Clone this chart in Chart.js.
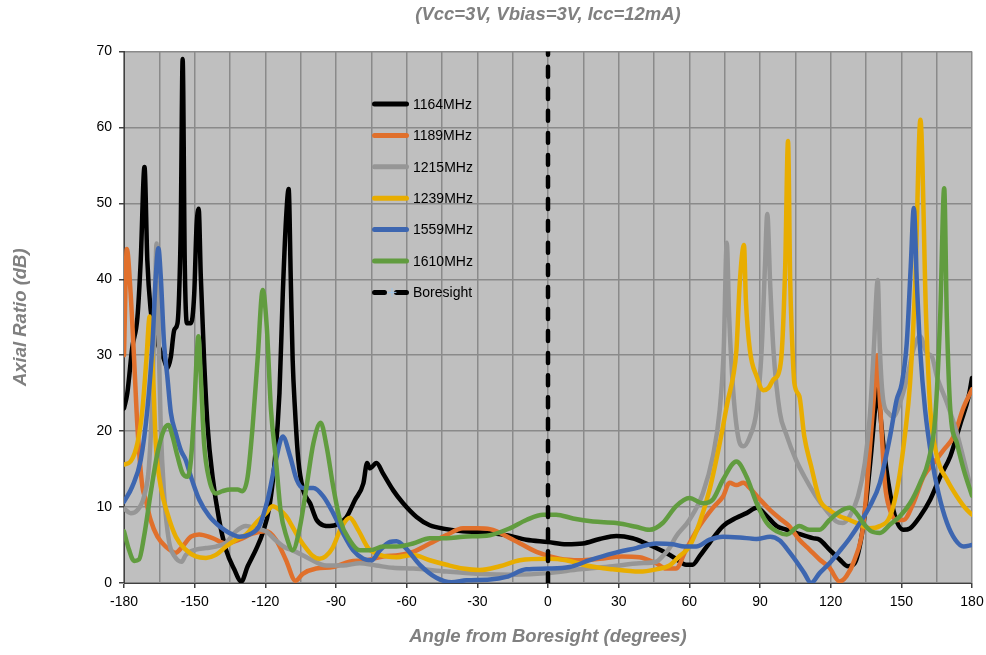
<!DOCTYPE html>
<html>
<head>
<meta charset="utf-8">
<title>Axial Ratio vs Angle</title>
<script src="https://cdn.jsdelivr.net/npm/chart.js@4.4.1/dist/chart.umd.min.js"></script>
<style>
  html, body { margin: 0; padding: 0; background: #ffffff; }
  #wrap { width: 986px; height: 655px; position: relative; }
</style>
</head>
<body>
<div id="wrap"><canvas id="arChart"></canvas></div>
<script>
// values (angle in degrees, axial ratio in dB)
const ang1164 = [-180,-178.6,-176.5,-174.3,-172.9,-171.3,-170.1,-168.7,-167.2,-165.1,-163,-161.6,-160.1,-158.7,-157.3,-156.6,-155.9,-155.1,-154.2,-153.3,-151.6,-150.2,-149.2,-148.3,-147.4,-146,-144.5,-142.4,-139.6,-136.7,-133.2,-130.2,-127.5,-124,-121.1,-118.3,-116.2,-114,-112.6,-111.2,-110.1,-109.2,-108.4,-107.4,-106,-103.9,-101,-98.2,-95.4,-92.6,-89,-85.5,-82,-78.4,-76.8,-75.6,-72.8,-70,-65.7,-61.5,-55.8,-50.2,-43.1,-36.1,-29,-17.7,-9.2,0,7.8,14.8,21.9,29,35.9,41.7,48.6,54.3,58.6,61.4,64.3,68.6,74.3,80,84.3,88.6,92.9,97.1,101.4,105.3,112.4,115.3,119.5,123.8,127.4,130.2,133.1,135.2,137.3,138.8,139.8,140.9,142.3,144.5,147.3,150.9,153.7,158,162.3,166.5,170.8,175.1,178.6,180];
const ar1164 = [23,25,31,35,42.5,54.8,42.5,36,33,31,29.4,28.3,29.8,33.3,34.2,38,47,69,42,34.2,34.2,38,47,49.3,40.4,29.4,20.6,14,8.3,4.4,1.8,0.2,2.2,4.4,6.6,10,15.4,25,38,48,51.9,40,29.4,22.8,16.2,12.2,10.5,8.3,7.6,7.5,7.8,8.7,10.9,13.1,15.8,15.1,15.8,14.4,12.2,10.5,8.7,7.6,7.1,6.8,6.7,6.3,5.7,5.4,5.1,5.2,5.8,6.2,5.9,5.2,4.2,3.2,2.4,2.4,3.5,5.3,7.5,8.6,9.2,9.9,8.8,7.5,7,6.6,5.9,5.7,4.4,3.1,2.2,2.6,6.1,11,17.5,22.8,26,22.8,18.4,13.2,8.8,7,7.2,8.8,11,14,16.7,21,24.6,27];

const ang1189 = [-180,-178.8,-177.2,-175.7,-174.3,-172.2,-170.8,-168.7,-165.8,-162.3,-158,-155.2,-151.6,-148.1,-142.4,-136.7,-131.1,-125.4,-119.7,-115.5,-111.2,-107.2,-104.1,-98.4,-91.3,-84.3,-77.2,-70.1,-63,-57.3,-50.2,-43.1,-36.1,-30,-24.7,-14.8,-4.9,4.9,13.4,22,31.4,38.8,45.9,50.1,54.3,58.6,64.3,70,74.3,77.1,80,82.9,85.7,90,94.3,98.4,102.4,106.7,111,115.3,119.5,123.8,126.7,130.2,133.8,136.6,138.8,139.8,140.9,143,145.2,148,150.9,155.1,159.4,163.7,167.9,172.2,176.5,180];
const ar1189 = [30,44,38.2,29.4,20.6,12.7,11,8.3,6.1,4.8,4,4.8,6.1,6.4,5.9,5.2,5.7,6.5,6.8,5.7,3,0.3,1.2,1.9,2.1,2.8,3,3.5,3.7,4.1,5.2,6.3,7.2,7.2,7.1,5.7,4.1,3.2,3,3.2,3.5,3.4,2.6,1.9,1.9,4.4,7.5,9.9,11.4,13.2,12.9,13.2,12.5,11,9.6,8.5,7.5,5.7,4.4,3.1,2,0.2,0.9,3.1,7.5,17.5,26.3,30,24.1,13.2,9.6,8.3,8.3,10.5,14,15.8,17.5,19.3,23.2,25.5];

const ang1215 = [-180,-177.2,-174.3,-171.5,-169.4,-167.9,-166.8,-166.2,-165.4,-164.4,-163,-160.9,-158.5,-155.5,-153.8,-149.5,-145.2,-141,-136.7,-132.5,-128.2,-124,-119.7,-115.5,-111.2,-108.4,-101.3,-94.2,-87.1,-80,-72.9,-65.8,-57.2,-43.1,-29,-14.8,0,13.4,27.5,38.8,45.9,48.6,51.6,54.3,60,65.7,70,72.9,74.6,75.9,76.9,78.6,80.7,82.9,85.7,88.6,90.7,92.1,93.1,94.3,95.7,98.4,101,105.3,109.6,113.8,118.1,122.4,125.2,128.1,131.6,134.5,136.6,138.3,140,140.9,142.3,144.5,146.6,149.4,152.3,155.1,157.9,160.8,163,165.1,169.4,173.6,177.9,180];
const ar1215 = [9.8,9.2,9.6,11.4,15.4,25,38.2,44.7,33.8,20.6,11.8,5.5,3.5,2.8,3.7,4.4,4.6,4.8,5.3,6.8,7.5,7.2,6.8,5.6,4.6,4.3,3.2,2.3,2.3,2.6,2.3,2,1.9,1.5,1.2,1.1,1.3,1.8,2.2,2.6,2.8,3.5,4.6,6.1,8.3,11.8,16.7,22.8,30.7,44.8,35.1,25.4,19.3,18,19.3,22.8,30.7,41.7,48.6,39.5,30.7,22.5,19.7,16.2,13.6,11.4,9.6,8.1,7.9,8.8,11.4,15.8,21.9,30.7,39.9,30.7,24.1,22.4,21.9,23.7,26.8,30.7,32.5,30.3,29.8,27.2,23.7,19.7,14.5,11.8];

const ang1239 = [-180,-177.2,-174.3,-172.2,-170.5,-169.1,-167.9,-166.5,-164.4,-161.6,-158,-153.8,-149.5,-145.2,-141,-136.7,-132.5,-128.2,-124,-119.7,-116.9,-113.8,-111.2,-108.1,-105.5,-102.5,-99.9,-97,-94.5,-91.5,-87.6,-84.2,-80.6,-76.3,-71.4,-64.3,-57.3,-50.2,-43.1,-36.1,-29,-20.5,-12,0,7.8,16.2,27.5,38.8,45.9,51.6,55.7,60,64.3,68.6,72.9,76.4,78.6,80,81.4,83.2,84,85.7,88.6,91.4,93.6,95.7,97.9,99.3,100.7,101.9,102.8,103.5,104.6,106.7,108.8,111.7,115.3,119.5,123.8,128.1,132.4,136.6,140.9,145.2,148.7,151.6,153.7,155.9,158.1,160.5,162.3,165.1,169.4,173.6,177.9,180];
const ar1239 = [15.6,16,18.4,22.8,29.4,35.1,29.4,18.4,12.7,9.2,6.1,4.4,3.5,3.3,3.7,4.8,5.7,6.4,7.9,9.2,10.1,9.6,8.8,7.2,5.8,4.5,3.6,3.2,3.5,4.6,7.4,8.6,7,4.6,3.7,3.4,3.7,3,2.4,1.9,1.7,2.2,3,3.2,3,2.3,1.8,1.5,1.8,2.3,3.5,4.8,7.9,12.3,18.4,24.1,27.2,30.7,39.5,44.5,37.3,30.7,27.2,25.4,25.7,26.8,27.6,30.7,41.7,58.2,40,33,26.3,24.6,19.3,15.4,11,9.6,8.8,8.3,7.7,7.2,7.5,8.8,13.2,19.7,26.3,39.5,61,35.1,22.8,16.7,13.6,11.4,9.6,9];

const ang1559 = [-180,-176.5,-172.9,-170.1,-167.9,-166.5,-165.4,-164.4,-163,-161.6,-160.1,-158,-155.9,-153.8,-151.6,-148.1,-143.8,-139.6,-135.3,-131.1,-126.8,-122.6,-119,-115.5,-112.6,-109.5,-106.7,-103.9,-99.6,-95.4,-91.2,-86.9,-82.7,-78.4,-74.9,-71.4,-67.1,-64.3,-60.1,-54.4,-47.4,-41,-34.6,-24.7,-17.7,-9.2,0,9.2,17.7,27.5,37.4,45.9,53,58,62.9,68.6,74.3,81.4,88.6,94.3,98.4,101.7,105.3,108.8,111.7,115.3,119.5,123.8,128.1,132.4,136.6,140.9,145.2,148,150.2,152.3,154,155.3,156.6,158,160.1,163,165.8,169.4,172.9,176.5,180];
const ar1559 = [10.7,12.7,16.2,22.8,31.6,40.4,44.1,40.4,31.6,27.2,22.4,19.7,17.5,16.2,14,11,8.8,7.5,6.6,6.1,6.4,7.5,11,16.2,19.3,16.7,13.6,12.5,12.5,11.4,9.2,6.5,4.3,3.2,3,4.3,5.4,5.5,4.5,2.4,0.7,0.1,0.35,0.45,0.8,1.8,1.9,2.1,3,3.9,4.6,5.2,5.1,4.8,4.8,5.7,6.1,6,5.8,6.1,5.6,4.4,2.9,1.3,0,1.3,2.6,4.2,5.9,7.9,10.1,13.2,19.3,24.1,26.3,31.6,41.7,49.4,39.5,30.7,22.8,16.2,11.8,7.9,5.7,4.8,5];

const ang1610 = [-180,-177.9,-175.7,-173.6,-171.5,-168.7,-165.8,-163,-161.1,-159.4,-157.3,-155.2,-153,-151.6,-150.2,-149.2,-148.4,-147.4,-146,-143.8,-141,-138.2,-134.6,-131.8,-129.7,-127.5,-125.4,-123.3,-121.1,-119.4,-117.6,-115.5,-113.5,-111,-108.4,-105.3,-102.5,-99.6,-96.5,-94,-91.2,-88.3,-84.1,-79.9,-75.6,-70,-64.3,-57.3,-50.2,-43.1,-36,-24.7,-16.2,-9.2,-2.1,3.5,10.6,19.1,29,37.4,43.1,48.7,54.3,60,65.7,70,74.3,80,84.3,88.6,92.9,97.1,101.4,106.7,111,115.3,119.5,123.8,128.1,130.9,133.8,137.3,140.9,145.2,149.4,153.7,158,161.6,164.4,166.5,168.2,169.3,170.8,173.6,176.5,180];
const ar1610 = [6.8,4.4,2.9,3.1,6.1,11.8,17.1,20.2,20.8,19.3,16.7,14.5,14,16.2,22.8,29.4,32.5,27.2,18.4,13.6,11.8,12.1,12.3,12.3,12.1,14,20.6,29.4,38.6,33.8,22.8,16.2,9.5,6.1,4.3,7.4,12.7,18.4,21.1,18,12.7,8.3,5.6,4.3,4.3,4.8,4.8,5.2,5.9,5.9,6.1,6.3,7.2,8.3,9,9,8.5,8.1,7.9,7.4,7,7.9,10.1,11.2,10.5,11,13.6,16,14,10.5,7.9,6.8,6.4,7.5,7,7,8.3,9.4,9.9,9.2,7.9,6.8,6.6,7.7,8.8,10.5,13.2,16.2,21.9,35.1,52,35.1,22.8,18.4,14.9,11.5];

// boresight marker: a vertical line at 0 degrees spanning the y range
const boreAng = [0, 0];
const boreAr = [0, 70];

const seriesNames = ['1164MHz', '1189MHz', '1215MHz', '1239MHz', '1559MHz', '1610MHz', 'Boresight'];
const seriesColors = ['#000000', '#e0702c', '#969696', '#e8ad00', '#3d66b0', '#619c3f', '#000000'];

function pts(xs, ys) {
  return xs.map(function(x, i) { return { x: x, y: ys[i] }; });
}

var allX = [ang1164, ang1189, ang1215, ang1239, ang1559, ang1610, boreAng];
var allY = [ar1164, ar1189, ar1215, ar1239, ar1559, ar1610, boreAr];

var datasets = [];
for (var i = 0; i < seriesNames.length; i++) {
  var isBore = (i === 6);
  datasets.push({
    label: seriesNames[i],
    data: pts(allX[i], allY[i]),
    borderColor: seriesColors[i],
    backgroundColor: seriesColors[i],
    borderWidth: 4.5,
    borderCapStyle: 'round',
    borderJoinStyle: 'round',
    borderDash: isBore ? [10, 12] : [],
    pointRadius: 0,
    fill: false,
    cubicInterpolationMode: 'monotone',
    // excel paints later series on top; chart.js paints low "order" on top
    order: isBore ? 0 : 6 - i
  });
}

// grey plot area like the excel chart
const plotBg = {
  id: 'plotBg',
  beforeDraw: function(chart) {
    var a = chart.chartArea;
    var ctx = chart.ctx;
    ctx.save();
    ctx.fillStyle = '#bfbfbf';
    ctx.fillRect(a.left, a.top, a.right - a.left, a.bottom - a.top);
    ctx.restore();
  }
};

// legend sits inside the plot, no box
const innerLegend = {
  id: 'innerLegend',
  afterDatasetsDraw: function(chart) {
    var ctx = chart.ctx;
    ctx.save();
    ctx.font = '14px "Liberation Sans", Arial, sans-serif';
    ctx.textBaseline = 'middle';
    chart.data.datasets.forEach(function(ds, k) {
      var y = 104 + k * 31.4;
      ctx.strokeStyle = ds.borderColor;
      ctx.lineWidth = 5;
      ctx.lineCap = 'round';
      ctx.setLineDash(ds.borderDash.length ? [10, 12] : []);
      ctx.beginPath();
      ctx.moveTo(374.5, y);
      ctx.lineTo(406.5, y);
      ctx.stroke();
      ctx.setLineDash([]);
      if (ds.borderDash.length) {
        ctx.strokeStyle = '#9dc3e6';
        ctx.lineWidth = 1;
        ctx.beginPath();
        ctx.moveTo(392, y - 4); ctx.lineTo(392, y + 4);
        ctx.moveTo(388, y); ctx.lineTo(396, y);
        ctx.stroke();
      }
      ctx.fillStyle = '#000000';
      ctx.fillText(ds.label, 413, y + 1);
    });
    ctx.restore();
  }
};

Chart.defaults.font.family = '"Liberation Sans", Arial, sans-serif';

var titleFont = { size: 18.5, weight: 'bold', style: 'italic' };

var ctx = document.getElementById('arChart');
var chart = new Chart(ctx, {
  type: 'line',
  data: { datasets: datasets },
  plugins: [plotBg, innerLegend],
  options: {
    responsive: true,
    maintainAspectRatio: false,
    animation: false,
    devicePixelRatio: 1,
    layout: { padding: { left: 0, right: 14, top: 0, bottom: 0 } },
    plugins: {
      legend: { display: false },
      tooltip: { enabled: false },
      title: {
        display: true,
        fullSize: false,
        text: '(Vcc=3V, Vbias=3V, Icc=12mA)',
        color: '#808080',
        font: titleFont,
        padding: { top: 3.9, bottom: 25.4 }
      }
    },
    scales: {
      x: {
        type: 'linear',
        min: -180,
        max: 180,
        afterFit: function(s) {
          s.height = 72;
          s.paddingLeft = 0;
          s.paddingRight = 0;
        },
        ticks: {
          stepSize: 15,
          autoSkip: false,
          maxRotation: 0,
          color: '#000000',
          font: { size: 14 },
          padding: 6,
          callback: function(v) { return v % 30 === 0 ? v : ''; }
        },
        grid: {
          color: '#8a8a8a',
          lineWidth: 1.5,
          tickLength: 5,
          tickColor: function(c) {
            return (c.tick && c.tick.value % 30 === 0) ? '#404040' : 'rgba(0,0,0,0)';
          }
        },
        border: { color: '#404040', width: 1 },
        title: {
          display: true,
          text: 'Angle from Boresight (degrees)',
          color: '#808080',
          font: titleFont,
          padding: { top: 0, bottom: 6.9 }
        }
      },
      y: {
        min: 0,
        max: 70,
        afterFit: function(s) { s.width = 124; },
        ticks: {
          stepSize: 10,
          color: '#000000',
          font: { size: 14 },
          padding: 7
        },
        grid: {
          color: '#8a8a8a',
          lineWidth: 1.5,
          tickLength: 5,
          tickColor: '#404040'
        },
        border: { color: '#404040', width: 1 },
        title: {
          display: true,
          text: 'Axial Ratio (dB)',
          color: '#808080',
          font: titleFont,
          padding: { top: 9.4, bottom: 0 }
        }
      }
    }
  }
});
</script>
</body>
</html>
